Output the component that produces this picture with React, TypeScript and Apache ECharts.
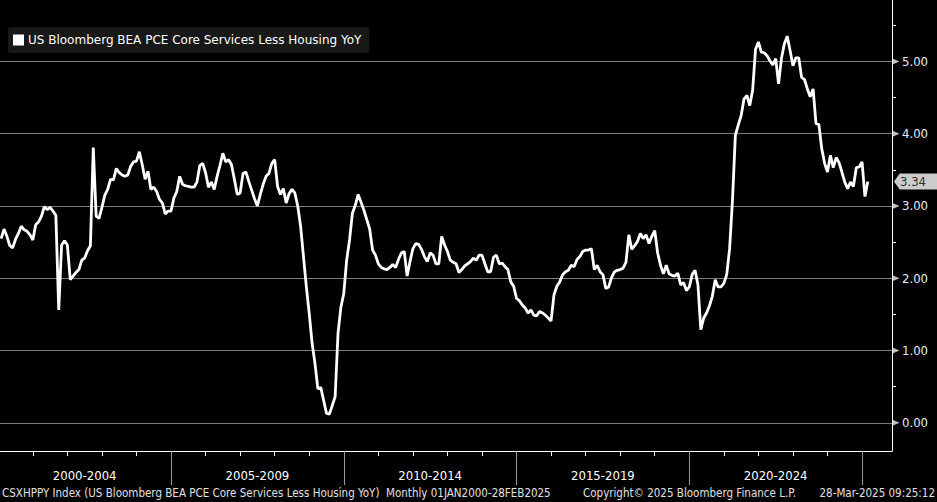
import React, { useEffect, useRef } from "react";
import * as echarts from "echarts";

// ---- data (monthly, Jan 2000 .. Feb 2025) ----
const seriesName = "US Bloomberg BEA PCE Core Services Less Housing YoY";

const yoy2000to2004 = [
  2.55, 2.68, 2.58, 2.45, 2.42, 2.54, 2.62, 2.72, 2.67, 2.65, 2.6, 2.53,
  2.74, 2.78, 2.86, 2.99, 2.95, 2.98, 2.93, 2.87, 1.56, 2.46, 2.52, 2.46,
  1.98, 2.03, 2.08, 2.12, 2.25, 2.28, 2.38, 2.45, 3.81, 2.86, 2.83, 2.98,
  3.15, 3.23, 3.37, 3.36, 3.52, 3.46, 3.43, 3.41, 3.43, 3.55, 3.61, 3.62,
  3.75, 3.57, 3.37, 3.48, 3.23, 3.26, 3.2, 3.09, 3.04, 2.89, 2.93, 2.93,
];
const yoy2005to2009 = [
  3.11, 3.2, 3.41, 3.3, 3.28, 3.27, 3.26, 3.26, 3.33, 3.56, 3.59, 3.46,
  3.26, 3.33, 3.23, 3.41, 3.56, 3.73, 3.61, 3.64, 3.57, 3.37, 3.16, 3.18,
  3.45, 3.47, 3.34, 3.22, 3.1, 3.0, 3.16, 3.3, 3.41, 3.45, 3.59, 3.64,
  3.27, 3.16, 3.24, 3.04, 3.17, 3.23, 3.18, 3.0, 2.72, 2.3, 1.88, 1.51,
  1.1, 0.82, 0.47, 0.49, 0.31, 0.13, 0.12, 0.24, 0.36, 1.24, 1.6, 1.79,
];
const yoy2010to2014 = [
  2.25, 2.53, 2.9, 3.01, 3.16, 3.05, 2.94, 2.81, 2.68, 2.39, 2.32, 2.2,
  2.15, 2.13, 2.12, 2.15, 2.19, 2.15, 2.26, 2.35, 2.37, 2.03, 2.23, 2.41,
  2.48, 2.47, 2.4, 2.3, 2.23, 2.35, 2.32, 2.2, 2.2, 2.58, 2.46, 2.37,
  2.25, 2.22, 2.2, 2.08, 2.12, 2.17, 2.2, 2.23, 2.28, 2.25, 2.32, 2.32,
  2.2, 2.09, 2.09, 2.29, 2.32, 2.2, 2.21, 2.16, 2.12, 1.95, 1.89, 1.72,
];
const yoy2015to2019 = [
  1.69, 1.63, 1.59, 1.52, 1.56, 1.49, 1.48, 1.54, 1.52, 1.49, 1.45, 1.41,
  1.77, 1.89, 1.95, 2.05, 2.09, 2.11, 2.18, 2.16, 2.26, 2.3, 2.37, 2.39,
  2.39, 2.41, 2.12, 2.18, 2.09, 2.05, 1.86, 1.88, 2.01, 2.09, 2.11, 2.12,
  2.14, 2.22, 2.6, 2.4, 2.45, 2.51, 2.62, 2.55, 2.6, 2.48, 2.58, 2.66,
  2.35, 2.18, 2.06, 2.18, 2.06, 2.04, 2.03, 2.07, 1.91, 1.94, 1.83, 1.88,
];
const yoy2020to2024 = [
  2.05, 2.11, 1.91, 1.29, 1.45, 1.52, 1.62, 1.75, 1.98, 1.88, 1.88, 1.93,
  2.05, 2.41, 3.08, 3.98, 4.12, 4.25, 4.48, 4.53, 4.39, 4.6, 5.17, 5.27,
  5.13, 5.12, 5.08, 5.01, 4.95, 5.04, 4.69, 5.04, 5.24, 5.35, 5.15, 4.94,
  5.05, 5.05, 4.78, 4.75, 4.62, 4.51, 4.62, 4.14, 4.13, 3.79, 3.59, 3.47,
  3.7, 3.53, 3.67, 3.6, 3.47, 3.33, 3.24, 3.33, 3.27, 3.53, 3.54, 3.61,
];
const yoy2025 = [3.13, 3.34];

const periodLabels = ["2000-2004", "2005-2009", "2010-2014", "2015-2019", "2020-2024"];
const yLabelValues = [0, 1, 2, 3, 4, 5];
const yMinorValues = [0.5, 1.5, 2.5, 3.5, 4.5, 5.5];

const footerSource =
  "CSXHPPY Index (US Bloomberg BEA PCE Core Services Less Housing YoY)  Monthly 01JAN2000-28FEB2025";
const footerCopyright = "Copyright\u00A9 2025 Bloomberg Finance L.P.";
const footerStamp = "28-Mar-2025 09:25:12";

// x axis is "months since 1 Jan 2000"; monthly points sit at month end
const X_MIN = 0.6;
const X_MAX = 310.4;
const Y_MIN = -0.39;
const Y_MAX = 5.85;

const NARROW = "'Liberation Sans Narrow', 'DejaVu Sans Condensed', 'Arial Narrow', sans-serif";

export default function App() {
  const ref = useRef<HTMLDivElement>(null);

  useEffect(() => {
    const el = ref.current;
    if (!el) return;
    const chart = echarts.init(el, null, { renderer: "svg" });

    const values = [
      ...yoy2000to2004,
      ...yoy2005to2009,
      ...yoy2010to2014,
      ...yoy2015to2019,
      ...yoy2020to2024,
      ...yoy2025,
    ];
    const data = values.map((v, i) => [i + 1, v]);
    const last = values[values.length - 1];

    const yearTicks: number[] = [];
    for (let m = 12; m < X_MAX; m += 12) if (m % 60 !== 0) yearTicks.push(m);
    const sepTicks = periodLabels.map((_, i) => (i + 1) * 60);
    const labelPos = periodLabels.map((_, i) => i * 60 + 30);

    chart.setOption({
      animation: false,
      backgroundColor: "#000000",
      grid: { left: 0, right: 45, top: 0, bottom: 51 },
      legend: {
        left: 8,
        top: 27,
        data: [{ name: seriesName, icon: "rect" }],
        itemWidth: 11,
        itemHeight: 11,
        itemGap: 0,
        padding: [7, 8, 7, 5],
        backgroundColor: "#181818",
        borderRadius: 3,
        selectedMode: false,
        textStyle: { color: "#ffffff", fontSize: 12, fontFamily: "'DejaVu Sans', sans-serif", padding: [0, 0, 0, -1] },
      },
      xAxis: [
        {
          type: "value",
          min: X_MIN,
          max: X_MAX,
          position: "bottom",
          axisLine: { show: true, onZero: false, lineStyle: { color: "#ffffff", width: 1 } },
          axisTick: { show: true, customValues: yearTicks, length: 5, lineStyle: { color: "#ffffff" } },
          axisLabel: {
            show: true,
            customValues: labelPos,
            formatter: (v: number) => periodLabels[Math.round((v - 30) / 60)] || "",
            color: "#ffffff",
            fontSize: 13,
            fontFamily: NARROW,
            margin: 18,
          },
          splitLine: { show: false },
        },
        {
          type: "value",
          min: X_MIN,
          max: X_MAX,
          position: "bottom",
          axisLine: { show: false, onZero: false },
          axisTick: { show: true, customValues: sepTicks, length: 34, lineStyle: { color: "#9a9a9a" } },
          axisLabel: { show: false },
          splitLine: { show: false },
        },
      ],
      yAxis: {
        type: "value",
        position: "right",
        min: Y_MIN,
        max: Y_MAX,
        axisLine: { show: true, onZero: false, lineStyle: { color: "#ffffff", width: 1 } },
        axisTick: { show: true, customValues: yMinorValues, length: 4, lineStyle: { color: "#ffffff" } },
        axisLabel: {
          show: true,
          customValues: yLabelValues,
          formatter: (v: number) => v.toFixed(2),
          color: "#e4ebf3",
          fontSize: 13,
          fontFamily: NARROW,
          margin: 10,
        },
        splitLine: { show: false },
      },
      series: [
        {
          name: seriesName,
          type: "line",
          data,
          symbol: "none",
          showSymbol: false,
          z: 5,
          lineStyle: { color: "#ffffff", width: 2.8 },
          itemStyle: { color: "#ffffff" },
          markLine: {
            silent: true,
            z: 1,
            symbol: ["none", "none"],
            label: { show: false },
            lineStyle: { color: "#7c7c7c", width: 1, type: "solid" },
            data: yLabelValues.map((v) => ({ yAxis: v })),
          },
        },
        {
          name: "ticks",
          type: "scatter",
          data: yLabelValues.map((v) => [X_MAX, v]),
          symbol: "path://M0,0L7,3L0,6Z",
          symbolSize: [7, 6],
          symbolOffset: [4, 0],
          itemStyle: { color: "#f0f0f0" },
          clip: false,
          silent: true,
          z: 6,
        },
        {
          name: "last",
          type: "scatter",
          data: [[X_MAX, last]],
          symbol: "path://M0,8L6,0L46,0L46,16L6,16Z",
          symbolSize: [44, 16],
          symbolOffset: [24, 0],
          itemStyle: { color: "#ffffff" },
          clip: false,
          silent: true,
          z: 7,
          label: {
            show: true,
            position: "inside",
            formatter: () => last.toFixed(2),
            color: "#000000",
            fontSize: 13,
            fontFamily: NARROW,
            offset: [-3, 0],
          },
        },
      ],
      graphic: [
        {
          type: "text",
          left: 2,
          top: 487,
          style: { text: footerSource, fill: "#e0e0e0", font: `11.5px ${NARROW}` },
        },
        {
          type: "text",
          left: 583,
          top: 487,
          style: { text: footerCopyright, fill: "#e0e0e0", font: `11.5px ${NARROW}` },
        },
        {
          type: "text",
          right: 2,
          top: 487,
          style: { text: footerStamp, fill: "#e0e0e0", font: `11.5px ${NARROW}` },
        },
      ],
    });

    return () => chart.dispose();
  }, []);

  return (
    <div
      ref={ref}
      style={{ position: "fixed", left: 0, top: 0, width: 937, height: 502, background: "#000" }}
    />
  );
}
